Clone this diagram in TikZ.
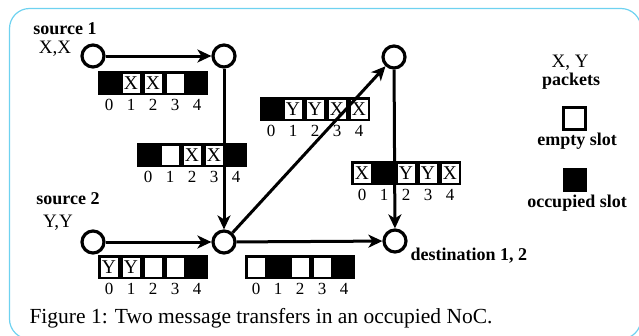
\documentclass[tikz,border=0pt]{standalone}
\usepackage{fontspec}
\setmainfont{Liberation Serif}
\usetikzlibrary{arrows.meta}

\tikzset{
    router/.style={circle, draw, fill=white, line width=3.2pt, minimum size=22pt, inner sep=0pt},
    link/.style={line width=3pt, -{Stealth[length=14pt, width=13pt, inset=4pt]}},
    lbl/.style={font=\fontsize{18}{20}\selectfont\bfseries},
    txt/.style={font=\fontsize{19}{20}\selectfont},
    slotchar/.style={font=\fontsize{19.5}{20}\selectfont, inner sep=0pt},
    slotnum/.style={font=\fontsize{17}{18}\selectfont, inner sep=0pt},
}
\def\blk{B}
% #1 name, #2 left x, #3 top y, #4 slots (B = occupied)
\newcommand{\slotrow}[4]{%
    \fill[black] (#2,#3) rectangle ++(110,24);
    \foreach \c [count=\i from 0] in {#4} {
        \ifx\c\blk\else
            \fill[white] (#2+\i*22+2.5,#3+2.5) rectangle ++(17,19);
            \node[slotchar] (#1s\i) at (#2+\i*22+11,#3+12.5) {\c};
        \fi
        \node[slotnum] (#1n\i) at (#2+\i*22+11,#3+34) {\i};
    }
}

\begin{document}
\begin{tikzpicture}[x=1pt, y=-1pt]
    \useasboundingbox (0,0) rectangle (639,335);
    \draw[color={rgb,255:red,110;green,210;blue,240}, line width=1.2pt, rounded corners=20pt] (9.5,8.5) rectangle (641,339);

    % slot tables
    \slotrow{ta}{98}{71}{B,X,X,{},B}
    \slotrow{tb}{137}{143}{B,{},X,X,B}
    \slotrow{tc}{260}{97}{B,Y,Y,X,X}
    \slotrow{td}{351}{161}{X,B,Y,Y,X}
    \slotrow{te}{98}{255}{Y,Y,{},{},B}
    \slotrow{tf}{245}{255}{{},B,{},{},B}

    % routers
    \node[router] (src1) at (93,56) {};
    \node[router] (r1) at (224,56) {};
    \node[router] (r2) at (394,57) {};
    \node[router] (src2) at (93,242) {};
    \node[router] (r3) at (224,242) {};
    \node[router] (dst) at (395,241) {};

    % links
    \draw[link] (src1) -- (r1);
    \draw[link] (r1) -- (r3);
    \draw[link] (src2) -- (r3);
    \draw[link] (r3) -- (r2);
    \draw[link] (r2) -- (dst);
    \draw[link] (r3) -- (dst);

    % labels
    \node[lbl] (lsrc1) at (65,29) {source 1};
    \node[txt] (lxx) at (55,49) {X,X};
    \node[lbl] (lsrc2) at (68,199) {source 2};
    \node[txt] (lyy) at (58,223) {Y,Y};
    \node[lbl, anchor=west] (ldst) at (407,256) {destination 1, 2};

    % legend
    \node[txt] (lxy) at (570,63) {X, Y};
    \node[lbl] (lpk) at (571,81) {packets};
    \node[draw, line width=3pt, minimum size=22pt, inner sep=0pt] (sqe) at (574,118) {};
    \node[lbl] (lemp) at (577,141) {empty slot};
    \node[fill=black, minimum size=24pt, inner sep=0pt] (sqo) at (575,180) {};
    \node[lbl] (locc) at (577,203) {occupied slot};

    \node[anchor=west, font=\fontsize{21.5}{23}\selectfont] (cap) at (26,318) {Figure 1: Two message transfers in an occupied NoC.};
\end{tikzpicture}
\end{document}
